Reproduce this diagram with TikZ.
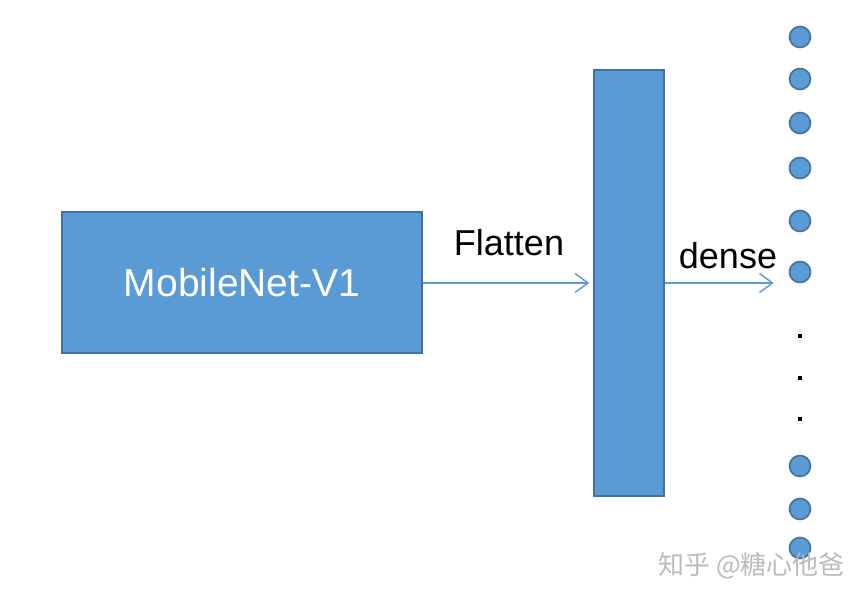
\documentclass[tikz,border=0pt]{standalone}
\usepackage{fontspec}
\setmainfont{Liberation Sans}
\newfontfamily\cjk{Noto Sans CJK SC}
\usetikzlibrary{arrows.meta}
\definecolor{boxfill}{HTML}{5B9BD5}
\definecolor{boxline}{HTML}{41719C}
\definecolor{arrowc}{HTML}{5B9BD5}
\definecolor{wmark}{HTML}{BBBBBB}
\tikzset{
  blockbox/.style={draw=boxline, fill=boxfill, line width=1.6pt, inner sep=0pt},
  neuron/.style={circle, draw=boxline, fill=boxfill, line width=1.6pt, minimum size=21pt, inner sep=0pt},
  edot/.style={fill=black, minimum size=4pt, inner sep=0pt},
  conn/.style={draw=arrowc, line width=1.4pt, -{Straight Barb[length=13pt,width=19pt,line width=1.4pt]}},
  lbl/.style={font=\fontsize{36}{40}\selectfont, text=black}
}
\begin{document}
\begin{tikzpicture}[x=1pt,y=-1pt]
\useasboundingbox (0,0) rectangle (868,600);
\node[blockbox, minimum width=360pt, minimum height=141pt, text=white, font=\fontsize{39}{44}\selectfont] (mb) at (242,282.5) {MobileNet-V1};
\node[blockbox, minimum width=70pt, minimum height=426pt] (bar) at (629,283) {};
\node[lbl] (flat) at (509,243) {Flatten};
\node[lbl] (dense) at (728,256) {dense};
\foreach \n/\y in {1/37,2/79,3/123,4/168,5/221,6/272,7/466,8/509,9/548}
  \node[neuron] (c\n) at (800,\y) {};
\foreach \n/\y in {1/336,2/378,3/419}
  \node[edot] (d\n) at (800,\y) {};
\draw[conn, shorten >=4pt] (mb.east |- 0,283) -- (bar.west |- 0,283);
\draw[conn, shorten >=15pt] (bar.east |- 0,283) -- (c6.west |- 0,283);
\node[text=wmark, font=\cjk\fontsize{26}{30}\selectfont, anchor=west] (wm) at (655,566) {知乎 @糖心他爸};
\end{tikzpicture}
\end{document}
